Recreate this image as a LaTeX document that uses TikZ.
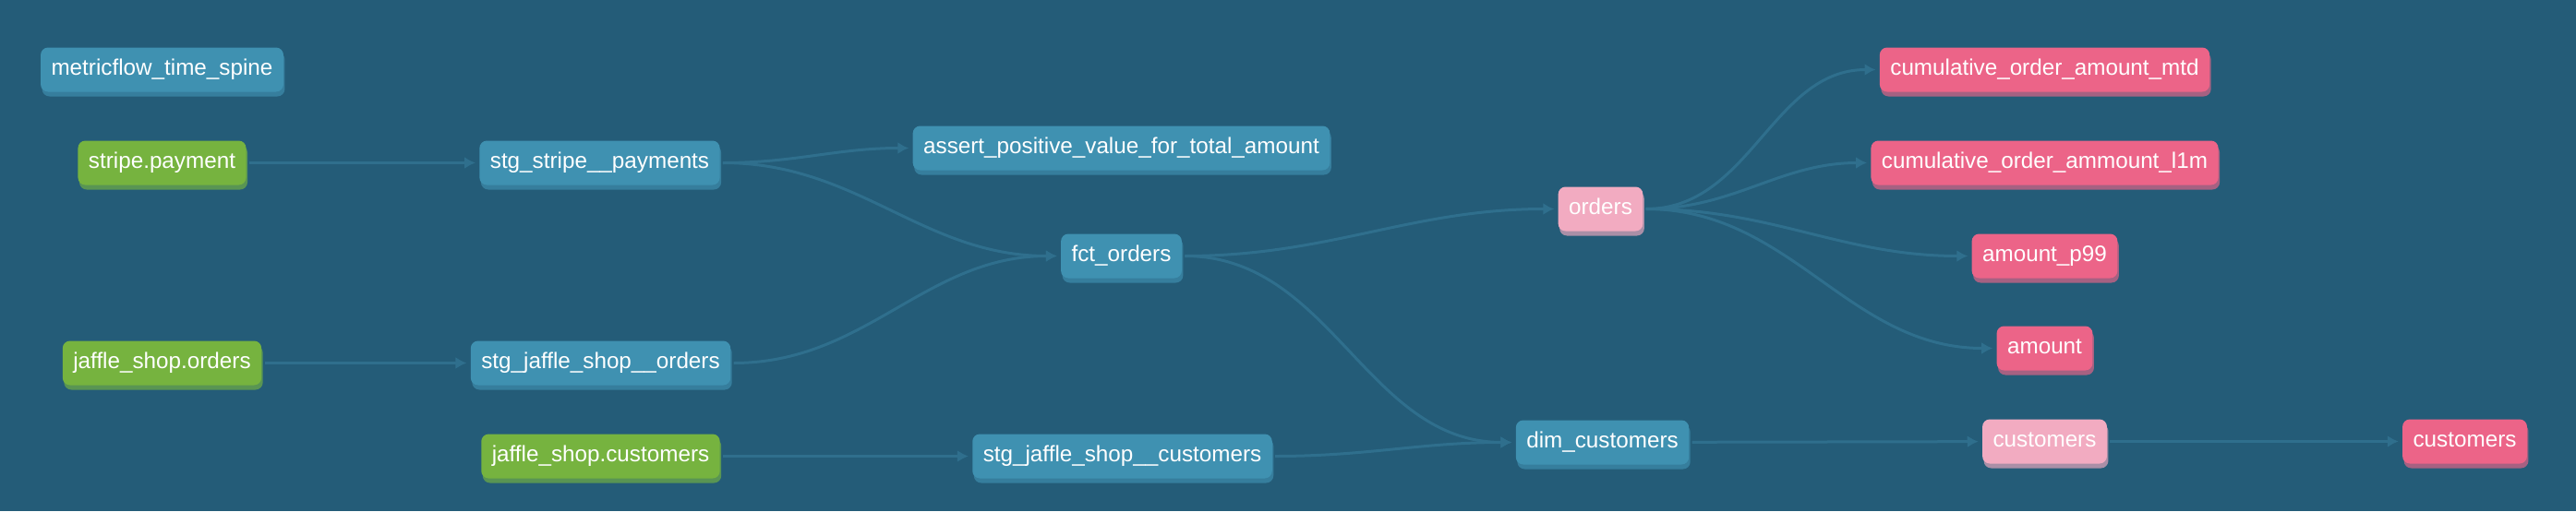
\documentclass[tikz,border=0pt]{standalone}
\usepackage{fontspec}
\setmainfont{Liberation Sans}
\usepackage{tikz}
\usetikzlibrary{arrows.meta, positioning, shadows}

\definecolor{bgblue}{HTML}{245C78}
\definecolor{modelblue}{HTML}{3F91B1}
\definecolor{sourcegreen}{HTML}{76B33F}
\definecolor{metricpink}{HTML}{EC6488}
\definecolor{semanticpink}{HTML}{F2ABC1}
\definecolor{edgeblue}{HTML}{2F6F8D}

\begin{document}
\begin{tikzpicture}[
    on grid,
    box/.style={rectangle, rounded corners=0.16cm, minimum height=0.96cm, inner xsep=0.23cm, text=white,
      text height=0.35cm, text depth=0.1cm, font=\fontsize{13.8}{16}\selectfont,
      drop shadow={shadow xshift=0.03cm, shadow yshift=-0.1cm, opacity=1, fill=#1!65!bgblue}, fill=#1},
    model/.style={box=modelblue},
    source/.style={box=sourcegreen},
    metric/.style={box=metricpink},
    semantic/.style={box=semanticpink},
    link/.style={draw=edgeblue, line width=0.06cm, -{Latex[length=0.24cm, width=0.26cm]}, shorten <=0.06cm, shorten >=0.08cm}
  ]
  \fill[bgblue] (0,0) rectangle (55.8,-11.08);

  \node[model] (spine) at (3.51,-1.51) {metricflow\_time\_spine};
  \node[source, below=2.02cm of spine] (stripe) {stripe.payment};
  \node[model, right=9.48cm of stripe] (stgstripe) {stg\_stripe\_\_payments};
  \node[model, above right=0.32cm and 11.3cm of stgstripe] (assert) {assert\_positive\_value\_for\_total\_amount};
  \node[model, below=2.34cm of assert] (fct) {fct\_orders};
  \node[source, below=4.34cm of stripe] (jaffleorders) {jaffle\_shop.orders};
  \node[model, right=9.5cm of jaffleorders] (stgorders) {stg\_jaffle\_shop\_\_orders};
  \node[source, below=2.02cm of stgorders] (jafflecust) {jaffle\_shop.customers};
  \node[model, right=11.3cm of jafflecust] (stgcust) {stg\_jaffle\_shop\_\_customers};
  \node[model, above right=0.3cm and 10.4cm of stgcust] (dimcust) {dim\_customers};
  \node[semantic, above right=1.02cm and 10.38cm of fct] (orders) {orders};
  \node[metric, above right=3.02cm and 9.62cm of orders] (mtd) {cumulative\_order\_amount\_mtd};
  \node[metric, below=2.02cm of mtd] (lonem) {cumulative\_order\_ammount\_l1m};
  \node[metric, below=2.02cm of lonem] (pninetynine) {amount\_p99};
  \node[metric, below=2.0cm of pninetynine] (amount) {amount};
  \node[semantic, below=2.02cm of amount] (semcust) {customers};
  \node[metric, right=9.1cm of semcust] (metriccust) {customers};

  \draw[link] (stripe) -- (stgstripe);
  \draw[link] (stgstripe.east) to[out=0, in=180] (assert.west);
  \draw[link] (stgstripe.east) to[out=0, in=180] (fct.west);
  \draw[link] (jaffleorders) -- (stgorders);
  \draw[link] (stgorders.east) to[out=0, in=180] (fct.west);
  \draw[link] (jafflecust) -- (stgcust);
  \draw[link] (stgcust.east) to[out=0, in=180] (dimcust.west);
  \draw[link] (fct.east) to[out=0, in=180] (orders.west);
  \draw[link] (fct.east) to[out=0, in=180] (dimcust.west);
  \draw[link] (orders.east) to[out=0, in=180] (mtd.west);
  \draw[link] (orders.east) to[out=0, in=180] (lonem.west);
  \draw[link] (orders.east) to[out=0, in=180] (pninetynine.west);
  \draw[link] (orders.east) to[out=0, in=180] (amount.west);
  \draw[link] (dimcust) -- (semcust);
  \draw[link] (semcust) -- (metriccust);
\end{tikzpicture}
\end{document}
